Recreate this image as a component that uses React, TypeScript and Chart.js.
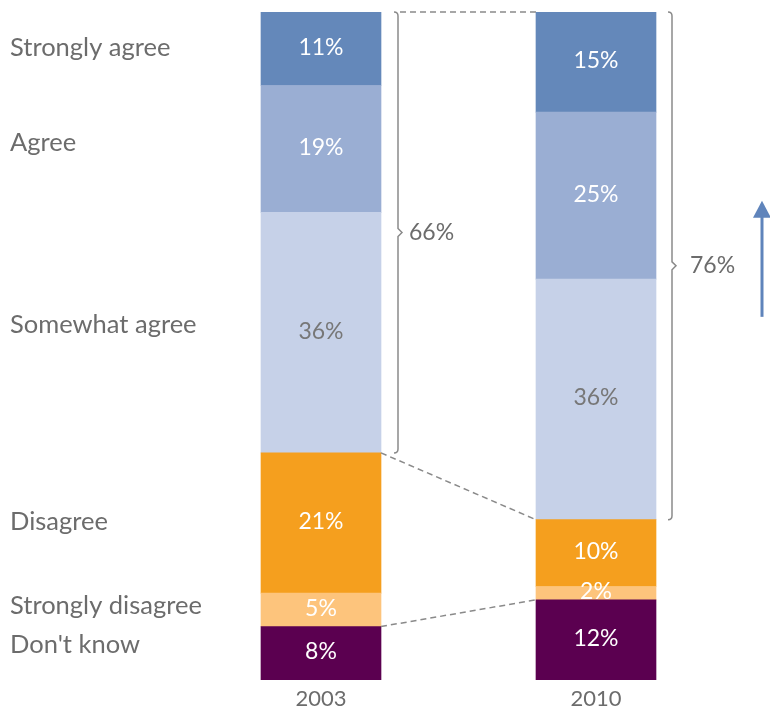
import React, { useEffect, useRef } from "react";
import { Chart, registerables } from "chart.js";

Chart.register(...registerables);

const YEARS = ["2003", "2010"];
// stacked from bottom to top
const CATEGORIES = ["Don't know", "Strongly disagree", "Disagree", "Somewhat agree", "Agree", "Strongly agree"];
const DONT_KNOW = [8, 12];
const STRONGLY_DISAGREE = [5, 2];
const DISAGREE = [21, 10];
const SOMEWHAT_AGREE = [36, 36];
const AGREE = [19, 25];
const STRONGLY_AGREE = [11, 15];
const SERIES = [DONT_KNOW, STRONGLY_DISAGREE, DISAGREE, SOMEWHAT_AGREE, AGREE, STRONGLY_AGREE];

const COLORS = ["#5b0050", "#fdc47c", "#f59f1e", "#c6d1e8", "#9aaed3", "#6488ba"];
const VALUE_COLORS = ["#ffffff", "#ffffff", "#ffffff", "#777777", "#ffffff", "#ffffff"];
const LABEL_NUDGE = [-8, -4, -1, -8, -6, -1];

const FONT = "Lato, 'Open Sans', sans-serif";
const TEXT = "#6c6c6c";
const LINE = "#8a8a8a";
const ARROW = "#5f84bb";

const annotPlugin = {
  id: "annot",
  afterDatasetsDraw(chart: any) {
    const ctx = chart.ctx as CanvasRenderingContext2D;
    const metas = SERIES.map((_, i) => chart.getDatasetMeta(i));
    const seg = (di: number, bi: number) => {
      const el = metas[di].data[bi];
      const p = el.getProps(["x", "y", "base", "width"], true);
      return { x: p.x, top: Math.min(p.y, p.base), bottom: Math.max(p.y, p.base), left: p.x - p.width / 2, right: p.x + p.width / 2 };
    };
    ctx.save();
    // value labels
    ctx.font = `23px ${FONT}`;
    ctx.textAlign = "center";
    ctx.textBaseline = "middle";
    SERIES.forEach((vals, di) => {
      vals.forEach((v, bi) => {
        const s = seg(di, bi);
        ctx.fillStyle = VALUE_COLORS[di];
        ctx.fillText(`${v}%`, s.x, (s.top + s.bottom) / 2 - 1.5);
      });
    });
    // category labels on left
    ctx.textAlign = "left";
    ctx.fillStyle = TEXT;
    ctx.font = `25.5px ${FONT}`;
    CATEGORIES.forEach((c, di) => {
      const s = seg(di, 0);
      ctx.fillText(c, 10, (s.top + s.bottom) / 2 + LABEL_NUDGE[di]);
    });

    const a0 = seg(5, 0), a1 = seg(5, 1);
    const sw0 = seg(3, 0), sw1 = seg(3, 1);
    const dk0 = seg(0, 0), dk1 = seg(0, 1);

    const bracket = (x: number, yTop: number, yBot: number) => {
      const mid = (yTop + yBot) / 2;
      ctx.beginPath();
      ctx.moveTo(x - 4, yTop);
      ctx.quadraticCurveTo(x, yTop, x, yTop + 4);
      ctx.lineTo(x, mid - 4);
      ctx.lineTo(x + 4, mid);
      ctx.lineTo(x, mid + 4);
      ctx.lineTo(x, yBot - 4);
      ctx.quadraticCurveTo(x, yBot, x - 4, yBot);
      ctx.stroke();
      return mid;
    };
    ctx.strokeStyle = LINE;
    ctx.lineWidth = 1.5;
    ctx.setLineDash([]);
    const bx0 = a0.right + 17;
    const bx1 = a1.right + 16;
    const m0 = bracket(bx0, a0.top, sw0.bottom);
    const m1 = bracket(bx1, a1.top, sw1.bottom);

    const agreeTotal = (bi: number) => STRONGLY_AGREE[bi] + AGREE[bi] + SOMEWHAT_AGREE[bi];
    ctx.fillStyle = TEXT;
    ctx.font = `23px ${FONT}`;
    ctx.textBaseline = "middle";
    ctx.fillText(`${agreeTotal(0)}%`, bx0 + 11, m0);
    ctx.fillText(`${agreeTotal(1)}%`, bx1 + 18, m1);

    // dashed connectors
    ctx.setLineDash([6, 4]);
    ctx.beginPath();
    ctx.moveTo(bx0 + 2, a0.top);
    ctx.lineTo(a1.left, a1.top);
    ctx.moveTo(sw0.right, sw0.bottom);
    ctx.lineTo(sw1.left, sw1.bottom);
    ctx.moveTo(dk0.right, dk0.top);
    ctx.lineTo(dk1.left, dk1.top);
    ctx.stroke();
    ctx.setLineDash([]);

    // arrow
    const ax = chart.width - 8;
    ctx.strokeStyle = ARROW;
    ctx.fillStyle = ARROW;
    ctx.lineWidth = 3;
    ctx.beginPath();
    ctx.moveTo(ax, m1 + 51);
    ctx.lineTo(ax, m1 - 50);
    ctx.stroke();
    ctx.beginPath();
    ctx.moveTo(ax, m1 - 65);
    ctx.lineTo(ax - 9, m1 - 48);
    ctx.lineTo(ax + 9, m1 - 48);
    ctx.closePath();
    ctx.fill();
    ctx.restore();
  },
};

export default function App() {
  const ref = useRef<HTMLCanvasElement>(null);
  useEffect(() => {
    if (!ref.current) return;
    const chart = new Chart(ref.current, {
      type: "bar",
      data: {
        labels: YEARS,
        datasets: SERIES.map((d, i) => ({
          label: CATEGORIES[i],
          data: d,
          backgroundColor: COLORS[i],
          borderWidth: 0,
          barThickness: 120,
        })),
      },
      options: {
        animation: false,
        responsive: false,
        layout: { padding: { left: 183.5, right: 36.5, top: 12, bottom: 0 } },
        plugins: { legend: { display: false }, tooltip: { enabled: false } },
        scales: {
          x: {
            stacked: true,
            grid: { display: false, drawTicks: false },
            border: { display: false },
            ticks: { color: TEXT, font: { family: FONT, size: 22 }, padding: 6 },
            afterFit: (scale: any) => {
              scale.height = 31;
            },
          },
          y: { stacked: true, display: false, min: 0, max: 100 },
        },
      },
      plugins: [annotPlugin],
    });
    return () => chart.destroy();
  }, []);
  return (
    <div style={{ position: "absolute", left: 0, top: 0, width: 770, height: 711 }}>
      <canvas ref={ref} width={770} height={711} style={{ display: "block" }} />
    </div>
  );
}
